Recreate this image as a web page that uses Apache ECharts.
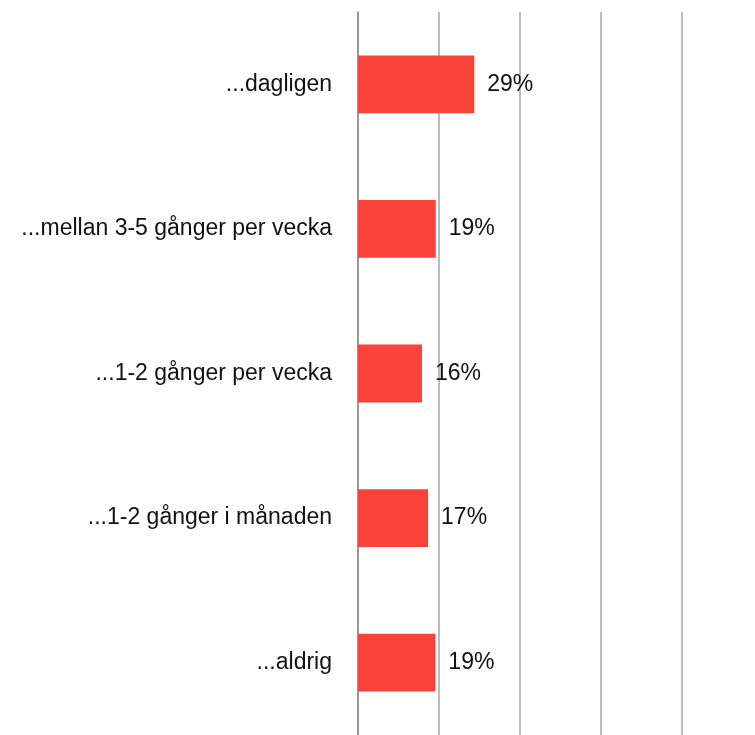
<!DOCTYPE html>
<html>
<head>
<meta charset="utf-8">
<script src="https://cdn.jsdelivr.net/npm/echarts@6/dist/echarts.min.js"></script>
<style>
  html, body { margin: 0; padding: 0; background: #fff; }
  #chart { width: 755px; height: 735px; }
</style>
</head>
<body>
<div id="chart"></div>
<script>
const categories = [
  '...dagligen',
  '...mellan 3-5 gånger per vecka',
  '...1-2 gånger per vecka',
  '...1-2 gånger i månaden',
  '...aldrig'
];
const shares = [28.7, 19.2, 15.8, 17.3, 19.1];
// visible part of the value axis; the 100% end falls just outside the picture
const xMin = 0;
const xMax = 98;
const xStep = 20;

const chart = echarts.init(document.getElementById('chart'));

const option = {
  animation: false,
  textStyle: { fontFamily: 'Liberation Sans, Arial, sans-serif' },
  grid: {
    left: 358,
    right: 0,
    top: 12,
    bottom: 0
  },
  xAxis: {
    type: 'value',
    min: xMin,
    max: xMax,
    interval: xStep,
    axisLabel: { show: false },
    axisLine: { show: false },
    axisTick: { show: false },
    splitLine: {
      showMaxLine: false,
      lineStyle: { color: '#a6a6a6', width: 1.5 }
    }
  },
  yAxis: {
    type: 'category',
    inverse: true,
    data: categories,
    axisLine: {
      lineStyle: { color: '#8c8c8c', width: 1.5 }
    },
    axisTick: {
      length: 9,
      lineStyle: { color: '#8c8c8c', width: 1.5 }
    },
    axisLabel: {
      color: '#111',
      fontSize: 23,
      margin: 26
    }
  },
  series: [
    {
      type: 'bar',
      data: shares,
      barWidth: '40%',
      itemStyle: { color: '#f9423a' },
      label: {
        show: true,
        position: 'right',
        distance: 13,
        color: '#111',
        fontSize: 23,
        formatter: (p) => Math.round(p.value) + '%'
      }
    }
  ]
};

chart.setOption(option);
</script>
</body>
</html>
